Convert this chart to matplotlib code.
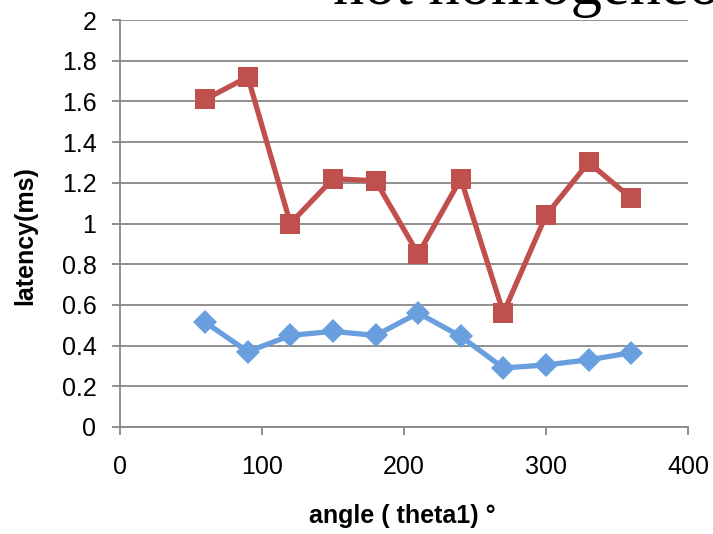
import matplotlib
matplotlib.use("Agg")
import matplotlib.pyplot as plt

# angle values (degrees)
angles = [60, 90, 120, 150, 180, 210, 240, 270, 300, 330, 360]
# latency series (ms)
latency_red = [1.61, 1.72, 1.00, 1.22, 1.21, 0.85, 1.22, 0.56, 1.04, 1.30, 1.125]
latency_blue = [0.515, 0.37, 0.45, 0.47, 0.45, 0.56, 0.445, 0.29, 0.305, 0.33, 0.365]

x_ticks = [0, 100, 200, 300, 400]
y_ticks = [0, 0.2, 0.4, 0.6, 0.8, 1, 1.2, 1.4, 1.6, 1.8, 2]
y_labels = ["0", "0.2", "0.4", "0.6", "0.8", "1", "1.2", "1.4", "1.6", "1.8", "2"]

plt.rcParams['font.family'] = ['Liberation Sans', 'DejaVu Sans']

fig = plt.figure(figsize=(7.13, 5.34), dpi=100)
ax = fig.add_axes([120 / 713, 1 - 427 / 534, 568 / 713, 407 / 534])

grid_col = "#878787"
ax.plot(angles, latency_blue, color="#6a9fdf", lw=3.8, marker="D", ms=12.5,
        markeredgewidth=0, zorder=3)
ax.plot(angles, latency_red, color="#c0504d", lw=3.8, marker="s", ms=14.5,
        markeredgewidth=0, zorder=3)

ax.set_xlim(0, 400)
ax.set_ylim(0, 2)
ax.set_xticks(x_ticks)
ax.set_yticks(y_ticks)
ax.set_yticklabels(y_labels)
ax.yaxis.grid(True, color=grid_col, lw=1.3)
ax.set_axisbelow(True)
for s in ["top", "right"]:
    ax.spines[s].set_visible(False)
for s in ["left", "bottom"]:
    ax.spines[s].set_color(grid_col)
    ax.spines[s].set_linewidth(1.3)
ax.tick_params(axis="both", colors=grid_col, length=6, width=1.3, labelsize=18,
               labelcolor="black")
ax.tick_params(axis="x", pad=14)
ax.tick_params(axis="y", pad=11)

ax.set_xlabel("angle ( theta1) °", fontsize=18, fontweight="bold")
ax.xaxis.set_label_coords(0.497, -0.19)
ax.set_ylabel("latency(ms)", fontsize=18, fontweight="bold")
ax.yaxis.set_label_coords(-0.145, 0.47)

# big serif text clipped at the top of the image
fig.text(333 / 713, 1 - 4 / 534, "not homogeneous", fontsize=45,
         family="Liberation Serif", va="baseline", ha="left")

fig.savefig("out.png", dpi=100)
